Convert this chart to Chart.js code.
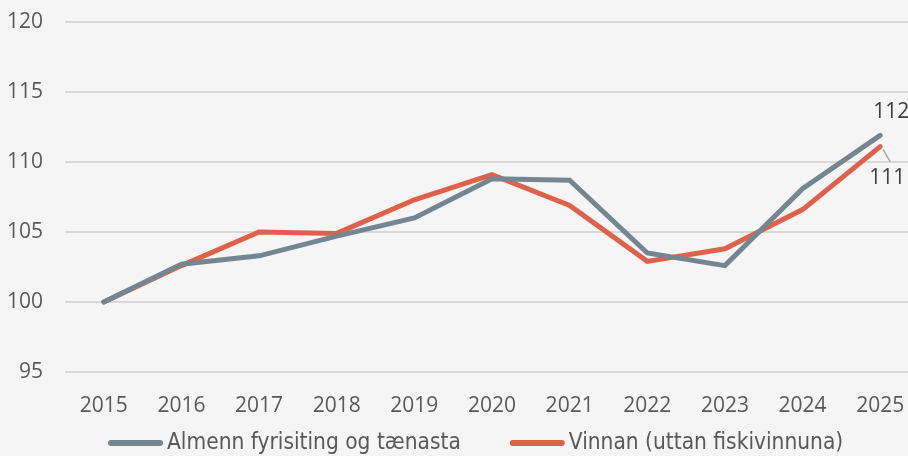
<!DOCTYPE html>
<html>
<head>
<meta charset="utf-8">
<script src="https://cdn.jsdelivr.net/npm/chart.js@4/dist/chart.umd.min.js"></script>
<style>
  html, body { margin: 0; padding: 0; background: #f5f5f5; overflow: hidden; }
  #wrap { width: 919px; height: 456px; }
</style>
</head>
<body>
<div id="wrap"><canvas id="c" width="919" height="456"></canvas></div>
<script>
const years = ['2015', '2016', '2017', '2018', '2019', '2020', '2021', '2022', '2023', '2024', '2025']
const almenn = [100, 102.7, 103.3, 104.7, 106.0, 108.8, 108.7, 103.5, 102.6, 108.1, 111.9]
const vinnan = [100, 102.6, 105.0, 104.9, 107.3, 109.1, 106.9, 102.9, 103.8, 106.6, 111.1]
const seriesNames = ['Almenn fyrisiting og tænasta', 'Vinnan (uttan fiskivinnuna)']

const GREY = '#748790'
const RED = '#e0604a'
const TEXT = '#595959'

// end-of-line value labels (last point of each series)
const endLabels = {
  id: 'endLabels',
  afterDatasetsDraw(chart) {
    const ctx = chart.ctx
    const x = chart.scales.x
    const y = chart.scales.y
    const last = years.length - 1
    const px = x.getPixelForValue(last)
    ctx.save()
    ctx.font = '21px "Open Sans", sans-serif'
    ctx.fillStyle = '#404040'
    ctx.textBaseline = 'middle'
    ctx.textAlign = 'left'
    const gy = y.getPixelForValue(almenn[last])
    ctx.fillText(Math.round(almenn[last]), px - 7, gy - 23)
    // lower label sits under the point, with a small leader line
    const ry = y.getPixelForValue(vinnan[last])
    ctx.strokeStyle = '#a6a6a6'
    ctx.lineWidth = 1.5
    ctx.beginPath()
    ctx.moveTo(px + 3, ry + 3)
    ctx.lineTo(px + 10, ry + 15)
    ctx.stroke()
    ctx.fillText(Math.round(vinnan[last]), px - 11, ry + 31)
    ctx.restore()
  }
}

// legend drawn by hand so spacing matches the original
const bottomLegend = {
  id: 'bottomLegend',
  afterDraw(chart) {
    const ctx = chart.ctx
    const ds = chart.data.datasets
    const yMid = 443
    let cx = chart.chartArea.left + 43
    ctx.save()
    ctx.font = '22.5px "Liberation Sans Narrow", "DejaVu Sans Condensed", sans-serif'
    ctx.textBaseline = 'middle'
    ctx.textAlign = 'left'
    ds.forEach((d) => {
      ctx.strokeStyle = d.borderColor
      ctx.lineWidth = 6
      ctx.lineCap = 'round'
      ctx.beginPath()
      ctx.moveTo(cx + 3, yMid)
      ctx.lineTo(cx + 52, yMid)
      ctx.stroke()
      ctx.fillStyle = TEXT
      ctx.fillText(d.label, cx + 59, yMid)
      cx += 59 + ctx.measureText(d.label).width + 49
    })
    ctx.restore()
  }
}

new Chart(document.getElementById('c'), {
  type: 'line',
  data: {
    labels: years,
    datasets: [
      { label: seriesNames[0], data: almenn, borderColor: GREY, backgroundColor: GREY },
      { label: seriesNames[1], data: vinnan, borderColor: RED, backgroundColor: RED },
    ],
  },
  options: {
    responsive: false,
    animation: false,
    layout: { padding: { top: 22, right: 0, left: 0, bottom: 42 } },
    elements: {
      line: { borderWidth: 5, tension: 0, borderCapStyle: 'round', borderJoinStyle: 'miter' },
      point: { radius: 0 },
    },
    plugins: {
      tooltip: { enabled: false },
      legend: { display: false },
    },
    scales: {
      x: {
        offset: true,
        grid: { display: false },
        border: { display: false },
        ticks: { color: TEXT, font: { family: '"Open Sans", sans-serif', size: 21 }, padding: 13, maxRotation: 0 },
        afterFit(s) { s.height = 42 },
      },
      y: {
        min: 95,
        max: 120,
        ticks: { stepSize: 5, color: TEXT, font: { family: '"Open Sans", sans-serif', size: 21 }, padding: 22 },
        grid: { color: '#d9d9d9', lineWidth: 2, drawTicks: false },
        border: { display: false },
        afterFit(s) {
          s.width = 65
          // tick padding would otherwise push the plot area down
          s.paddingTop = 12
          s.paddingBottom = 0
        },
      },
    },
  },
  plugins: [endLabels, bottomLegend],
})
</script>
</body>
</html>
